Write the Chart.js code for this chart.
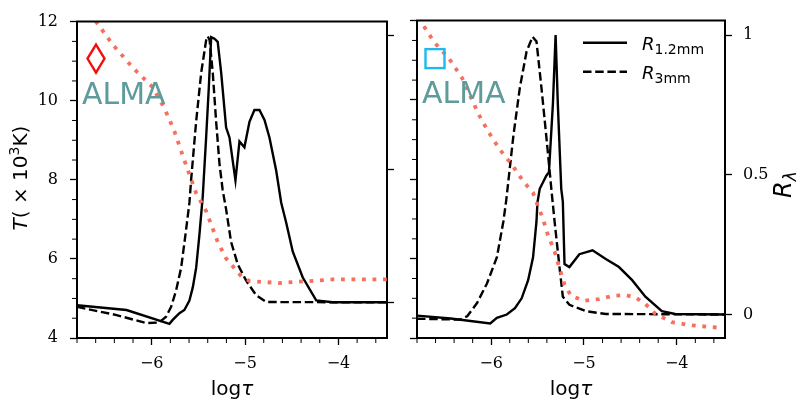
<!DOCTYPE html>
<html>
<head>
<meta charset="utf-8">
<script src="https://cdn.jsdelivr.net/npm/chart.js@4.4.1/dist/chart.umd.min.js"></script>
<style>
  body { margin: 0; background: #fff; }
  #wrap { position: relative; width: 799px; height: 404px; overflow: hidden; }
  canvas { position: absolute; top: 0; }
  #c1 { left: 0; }
  #c2 { left: 400px; }
</style>
</head>
<body>
<div id="wrap">
  <canvas id="c1" width="400" height="404"></canvas>
  <canvas id="c2" width="399" height="404"></canvas>
</div>
<script>
// tick labels
const xTicks = [-6, -5, -4];
const tTicks = [4, 6, 8, 10, 12];
const rTicks = [0, 0.5, 1];

// left panel: temperature (x 10^3 K)
const tauTL = [-6.80, -6.596, -6.418, -6.204, -5.99, -5.864, -5.757, -5.65, -5.524, -5.417, -5.293, -5.203, -5.04, -4.95, -4.63, -4.06, -3.48];
const tempL = [12.66, 12.0, 11.42, 10.84, 10.34, 9.81, 9.23, 8.49, 7.66, 7.21, 6.43, 6.01, 5.56, 5.44, 5.39, 5.48, 5.48];
// left panel: R 1.2mm
const tau12L = [-6.80, -6.27, -5.81, -5.775, -5.703, -5.65, -5.596, -5.56, -5.524, -5.489, -5.453, -5.417, -5.389, -5.363, -5.328, -5.293, -5.256, -5.203, -5.167, -5.103, -5.06, -5.007, -4.953, -4.90, -4.846, -4.792, -4.739, -4.667, -4.613, -4.56, -4.489, -4.382, -4.238, -4.063, -3.48];
const r12L = [-0.011, -0.029, -0.081, -0.066, -0.041, -0.029, 0.007, 0.056, 0.129, 0.253, 0.399, 0.619, 0.802, 0.996, 0.99, 0.978, 0.862, 0.656, 0.619, 0.458, 0.604, 0.582, 0.678, 0.722, 0.722, 0.685, 0.619, 0.495, 0.374, 0.30, 0.19, 0.093, 0.007, 0, 0];
// left panel: R 3mm
const tau3L = [-6.80, -6.375, -6.06, -5.92, -5.846, -5.792, -5.739, -5.685, -5.639, -5.596, -5.578, -5.524, -5.47, -5.417, -5.40, -5.38, -5.346, -5.31, -5.274, -5.24, -5.203, -5.15, -5.078, -4.988, -4.88, -4.774, -3.48];
const r3L = [-0.017, -0.048, -0.078, -0.076, -0.054, -0.017, 0.044, 0.129, 0.252, 0.374, 0.459, 0.679, 0.862, 0.984, 0.999, 0.985, 0.862, 0.679, 0.52, 0.422, 0.349, 0.227, 0.142, 0.081, 0.026, 0.001, 0];

// right panel: temperature
const tauTR = [-6.85, -6.74, -6.616, -6.456, -6.313, -6.136, -6.029, -5.904, -5.762, -5.655, -5.549, -5.512, -5.442, -5.388, -5.317, -5.264, -5.21, -5.139, -4.997, -4.837, -4.695, -4.552, -4.445, -4.338, -4.232, -4.054, -3.841, -3.50];
const tempR = [12.3, 11.91, 11.46, 11.05, 10.55, 9.64, 9.19, 8.74, 8.32, 7.95, 7.66, 7.42, 7.0, 6.59, 6.18, 5.76, 5.35, 5.06, 4.94, 4.98, 5.06, 5.08, 5.02, 4.86, 4.61, 4.40, 4.32, 4.25];
// right panel: R 1.2mm
const tau12R = [-6.80, -6.438, -6.011, -5.939, -5.832, -5.744, -5.672, -5.602, -5.549, -5.512, -5.502, -5.477, -5.406, -5.378, -5.335, -5.306, -5.282, -5.245, -5.228, -5.21, -5.157, -5.05, -4.908, -4.765, -4.623, -4.481, -4.338, -4.161, -4.018, -3.48];
const r12R = [-0.004, -0.014, -0.032, -0.012, 0, 0.023, 0.058, 0.123, 0.205, 0.333, 0.40, 0.45, 0.497, 0.509, 0.754, 1.0, 0.754, 0.45, 0.404, 0.181, 0.17, 0.216, 0.23, 0.199, 0.17, 0.123, 0.064, 0.012, 0.002, 0];
// right panel: R 3mm
const tau3R = [-6.80, -6.331, -6.259, -6.153, -6.046, -5.939, -5.869, -5.84, -5.832, -5.762, -5.691, -5.619, -5.555, -5.512, -5.459, -5.406, -5.352, -5.317, -5.264, -5.228, -5.157, -4.979, -4.765, -3.48];
const r3R = [-0.015, -0.018, -0.006, 0.041, 0.111, 0.205, 0.333, 0.404, 0.427, 0.637, 0.813, 0.941, 0.994, 0.977, 0.813, 0.637, 0.45, 0.333, 0.17, 0.064, 0.035, 0.012, 0.002, 0];

const RED_DOT = '#f7705e';
const ALMA_COL = '#5f9b9b';
const LW = 2.4;
const DASH = [8.5, 3.7];

function pts(xs, ys) {
  return xs.map((x, i) => ({ x: x, y: ys[i] }));
}

function datasets(tT, T, t12, r12, t3, r3) {
  return [
    { data: pts(tT, T), yAxisID: 'yT', borderColor: RED_DOT, borderWidth: 3.8,
      borderDash: [3.8, 6.7], borderCapStyle: 'butt', pointRadius: 0, order: 0 },
    { data: pts(t12, r12), yAxisID: 'yR', borderColor: '#000', borderWidth: LW,
      pointRadius: 0, order: 1 },
    { data: pts(t3, r3), yAxisID: 'yR', borderColor: '#000', borderWidth: LW,
      borderDash: DASH, pointRadius: 0, order: 2 }
  ];
}

function fixTicks(vals) {
  return function (s) { s.ticks = vals.map(v => ({ value: v })); };
}

const tickFont = { family: 'DejaVu Serif', size: 16 };

function axisGrid() {
  return { drawOnChartArea: false, drawTicks: true, tickLength: 7, tickColor: '#000', tickWidth: 1.3 };
}

function scales(leftW, rightW, showT, showR, rMin, rMax) {
  return {
    x: {
      type: 'linear', min: -6.8, max: -3.48,
      afterBuildTicks: fixTicks(xTicks),
      afterFit: s => { s.height = 66; },
      grid: axisGrid(),
      border: { display: true, color: '#000', width: 2 },
      ticks: { font: tickFont, color: '#000', padding: 9, maxRotation: 0,
        callback: v => String(v).replace('-', '\u2212') }
    },
    yT: {
      type: 'linear', position: 'left', min: 4, max: 12,
      afterBuildTicks: fixTicks(tTicks),
      afterFit: s => { s.width = leftW; },
      grid: axisGrid(),
      border: { display: true, color: '#000', width: 2 },
      ticks: { display: showT, font: tickFont, color: '#000', padding: 12 }
    },
    yR: {
      type: 'linear', position: 'right', min: rMin, max: rMax,
      afterBuildTicks: fixTicks(rTicks),
      afterFit: s => { s.width = rightW; },
      grid: axisGrid(),
      border: { display: true, color: '#000', width: 2 },
      ticks: { display: showR, font: tickFont, color: '#000', padding: 11,
        callback: v => String(v) }
    }
  };
}

// draws runs of text: [text, font, dy]
function drawRuns(ctx, runs, x, y) {
  let cx = x;
  runs.forEach(r => {
    ctx.font = r[1];
    ctx.fillText(r[0], cx, y + (r[2] || 0));
    cx += ctx.measureText(r[0]).width;
  });
  return cx - x;
}
function runsWidth(ctx, runs) {
  let w = 0;
  runs.forEach(r => { ctx.font = r[1]; w += ctx.measureText(r[0]).width; });
  return w;
}

const decor = {
  id: 'decor',
  afterDraw(chart, args, o) {
    const ctx = chart.ctx, a = chart.chartArea;
    const sx = chart.scales.x, sT = chart.scales.yT;
    ctx.save();
    ctx.strokeStyle = '#000';
    ctx.lineWidth = 2;
    ctx.beginPath();
    ctx.moveTo(a.left - 1, a.top);
    ctx.lineTo(a.right + 1, a.top);
    ctx.stroke();

    // minor ticks
    ctx.lineWidth = 1;
    ctx.beginPath();
    for (let k = -34; k <= -18; k++) {
      if (k % 5 === 0) continue;
      const px = sx.getPixelForValue(k / 5);
      ctx.moveTo(px, a.bottom + 1);
      ctx.lineTo(px, a.bottom + 5);
    }
    for (let k = 8; k <= 24; k++) {
      if (k % 4 === 0) continue;
      const py = sT.getPixelForValue(k / 2);
      ctx.moveTo(a.left - 1, py);
      ctx.lineTo(a.left - 5, py);
    }
    ctx.stroke();

    ctx.fillStyle = '#000';
    ctx.textBaseline = 'alphabetic';

    // x title
    const xr = [['log', '20px "DejaVu Sans"'], ['\u03c4', 'italic 20px "DejaVu Sans"']];
    ctx.textAlign = 'left';
    drawRuns(ctx, xr, (a.left + a.right) / 2 - runsWidth(ctx, xr) / 2, 395);

    // ALMA label and marker
    ctx.fillStyle = ALMA_COL;
    ctx.font = '30px "DejaVu Sans"';
    ctx.fillText('ALMA', a.left + 5, a.top + 82);
    ctx.lineWidth = 2.4;
    if (o.marker === 'diamond') {
      const cx = a.left + 19, cy = a.top + 37;
      ctx.strokeStyle = '#f01010';
      ctx.beginPath();
      ctx.moveTo(cx, cy - 14); ctx.lineTo(cx + 8.5, cy);
      ctx.lineTo(cx, cy + 14); ctx.lineTo(cx - 8.5, cy);
      ctx.closePath();
      ctx.stroke();
    } else {
      const cx = a.left + 18, cy = a.top + 38;
      ctx.strokeStyle = '#1fb8ee';
      ctx.strokeRect(cx - 9.5, cy - 9.5, 19, 19);
    }

    ctx.fillStyle = '#000';
    if (o.tTitle) {
      ctx.save();
      ctx.translate(27, 178);
      ctx.rotate(-Math.PI / 2);
      const f = '20px "DejaVu Sans"';
      const tr = [['T', 'italic ' + f], ['( \u00d7 10', f], ['3', '14px "DejaVu Sans"', -8], ['K)', f]];
      drawRuns(ctx, tr, -runsWidth(ctx, tr) / 2, 0);
      ctx.restore();
    }
    if (o.rTitle) {
      ctx.save();
      ctx.translate(391, 198);
      ctx.rotate(-Math.PI / 2);
      drawRuns(ctx, [['R', 'italic 24px "DejaVu Sans"'], ['\u03bb', 'italic 17px "DejaVu Sans"', 5]], 0, 0);
      ctx.restore();
    }
    if (o.legend) {
      ctx.strokeStyle = '#000';
      ctx.lineWidth = LW;
      ctx.beginPath();
      ctx.moveTo(183, 42.7); ctx.lineTo(227, 42.7);
      ctx.stroke();
      ctx.setLineDash(DASH);
      ctx.beginPath();
      ctx.moveTo(183, 71.7); ctx.lineTo(227, 71.7);
      ctx.stroke();
      ctx.setLineDash([]);
      drawRuns(ctx, [['R', 'italic 18px "DejaVu Sans"'], ['1.2mm', '14px "DejaVu Sans"', 3.5]], 242, 50);
      drawRuns(ctx, [['R', 'italic 18px "DejaVu Sans"'], ['3mm', '14px "DejaVu Sans"', 3.5]], 242, 79);
    }
    ctx.restore();
  }
};

function makeChart(id, ds, sc, deco) {
  return new Chart(document.getElementById(id), {
    type: 'line',
    data: { datasets: ds },
    options: {
      responsive: false,
      animation: false,
      devicePixelRatio: 1,
      layout: { padding: { top: 15, left: 0, right: 0, bottom: 0 } },
      elements: { line: { tension: 0, fill: false } },
      scales: sc,
      plugins: { legend: { display: false }, tooltip: { enabled: false }, decor: deco }
    },
    plugins: [decor]
  });
}

makeChart('c1', datasets(tauTL, tempL, tau12L, r12L, tau3L, r3L),
  scales(77, 13, true, false, -0.134, 1.054),
  { marker: 'diamond', tTitle: true });
makeChart('c2', datasets(tauTR, tempR, tau12R, r12R, tau3R, r3R),
  scales(17, 74, false, true, -0.084, 1.052),
  { marker: 'square', rTitle: true, legend: true });
</script>
</body>
</html>
